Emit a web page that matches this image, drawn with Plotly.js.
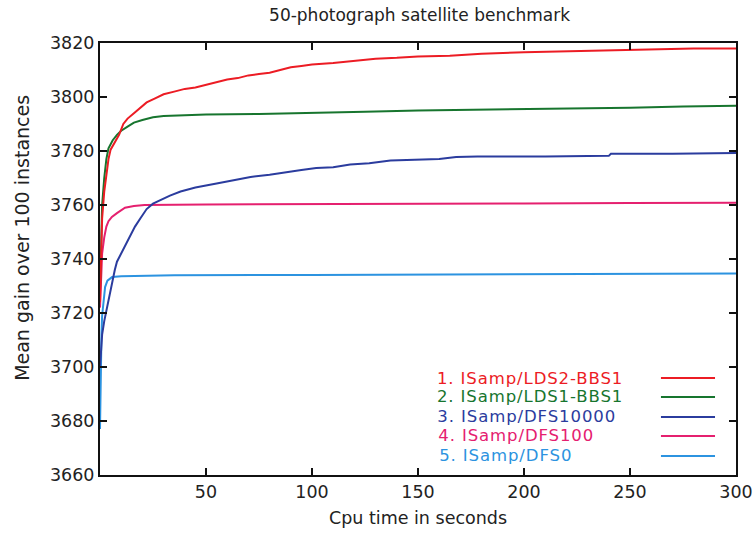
<!DOCTYPE html>
<html>
<head>
<meta charset="utf-8">
<script src="https://cdn.plot.ly/plotly-3.0.1.min.js"></script>
<style>html,body{margin:0;padding:0;background:#fff;}#chart{width:756px;height:533px;}
.legend-anno .annotation-text{letter-spacing:0.9px;}</style>
</head>
<body>
<div id="chart"></div>
<script>
const seriesNames = ["1. ISamp/LDS2-BBS1", "2. ISamp/LDS1-BBS1", "3. ISamp/DFS10000", "4. ISamp/DFS100", "5. ISamp/DFS0"];
const seriesColors = ["#ec1c24", "#17752e", "#2b3c9e", "#e5206f", "#2c93e0"];

const redX = [0, 0.5, 1, 2, 3, 4, 5, 7, 9, 11, 13, 16, 19, 22, 26, 30, 35, 40, 45, 50, 55, 60, 65, 70, 75, 80, 85, 90, 95, 100, 110, 120, 130, 140, 150, 165, 180, 200, 220, 240, 260, 280, 300];
const redY = [3724, 3745, 3755, 3765, 3772, 3777, 3780.5, 3783, 3786, 3790, 3792, 3794, 3796, 3798, 3799.5, 3801, 3802, 3803, 3803.5, 3804.5, 3805.5, 3806.5, 3807, 3808, 3808.5, 3809, 3810, 3811, 3811.5, 3812, 3812.6, 3813.5, 3814.2, 3814.5, 3815, 3815.3, 3816, 3816.6, 3817, 3817.3, 3817.6, 3818, 3818];

const greenX = [0, 0.5, 1, 2, 3, 4, 6, 8, 10, 13, 16, 20, 25, 30, 40, 50, 75, 100, 125, 150, 175, 200, 225, 250, 275, 300];
const greenY = [3728, 3750, 3760, 3770, 3777, 3781, 3784, 3786, 3787.5, 3789, 3790.5, 3791.5, 3792.5, 3793, 3793.3, 3793.5, 3793.7, 3794, 3794.5, 3795, 3795.2, 3795.5, 3795.8, 3796, 3796.5, 3796.8];

const blueX = [0, 0.5, 1, 2, 3, 4, 5, 6, 7, 8, 10, 12, 14, 16.5, 19, 22, 25, 29, 33, 38, 45, 55, 62, 71, 80, 86, 95, 102, 110, 118, 127, 137, 160, 168, 178, 210, 240, 241, 270, 300];
const blueY = [3700, 3708, 3712, 3717, 3721, 3725, 3729, 3733, 3736, 3739, 3742, 3745, 3748.5, 3752, 3755, 3758.5, 3760.5, 3762, 3763.5, 3765, 3766.5, 3768, 3769, 3770.4, 3771.2, 3772, 3773, 3773.7, 3774, 3775, 3775.5, 3776.5, 3777, 3777.8, 3778, 3778, 3778.2, 3779, 3779, 3779.3];

const magentaX = [0, 0.5, 1, 2, 3, 4, 5.6, 8, 11.8, 16, 21, 50, 100, 150, 200, 250, 300];
const magentaY = [3722, 3735, 3742, 3748, 3752, 3754, 3755.6, 3757, 3759, 3759.6, 3760, 3760.2, 3760.4, 3760.5, 3760.6, 3760.7, 3760.8];

const cyanX = [0, 0.2, 0.4, 0.7, 1, 1.5, 2.4, 3.5, 5.7, 10, 30, 35, 100, 200, 300];
const cyanY = [3677, 3690, 3700, 3712, 3719, 3724, 3729.6, 3732, 3733.3, 3733.6, 3733.8, 3734, 3734.1, 3734.3, 3734.6];

const xTicks = [0, 50, 100, 150, 200, 250, 300];
const xTickText = ["", "50", "100", "150", "200", "250", "300"];
const yTicks = [3660, 3680, 3700, 3720, 3740, 3760, 3780, 3800, 3820];

const allX = [redX, greenX, blueX, magentaX, cyanX];
const allY = [redY, greenY, blueY, magentaY, cyanY];

// draw order: back to front
const order = [4, 3, 2, 1, 0];
const traces = order.map(i => ({
  type: 'scatter', mode: 'lines', x: allX[i], y: allY[i], name: seriesNames[i],
  line: {color: seriesColors[i], width: 2}, showlegend: false
}));

const font = "DejaVu Sans, Arial, sans-serif";
const legendRowsY = [0.2245, 0.1806, 0.1343, 0.0903, 0.044];
const annotations = seriesNames.map((n, i) => ({
  xref: 'paper', yref: 'paper', x: 0.541, y: legendRowsY[i], xanchor: 'left', yanchor: 'middle',
  text: n, showarrow: false, borderpad: 0, font: {family: font, size: 16.5, color: seriesColors[i]}
}));
annotations.push({
  xref: 'paper', yref: 'paper', x: -0.1226, y: 0.549, xanchor: 'center', yanchor: 'middle',
  textangle: -90, text: 'Mean gain over 100 instances', showarrow: false,
  font: {family: font, size: 19, color: '#222'}
});
const shapes = seriesNames.map((n, i) => ({
  type: 'line', xref: 'paper', yref: 'paper', x0: 0.882, x1: 0.967, y0: legendRowsY[i], y1: legendRowsY[i],
  line: {color: seriesColors[i], width: 2}
}));

const axisCommon = {
  showgrid: false, zeroline: false, showline: true, linecolor: '#111', linewidth: 2,
  mirror: 'ticks', ticks: 'inside', ticklen: 7, tickwidth: 2, tickcolor: '#111',
  tickfont: {family: font, size: 17.5, color: '#222'}
};

const layout = {
  width: 756, height: 533,
  margin: {l: 100, r: 20, t: 43, b: 58},
  paper_bgcolor: '#fff', plot_bgcolor: '#fff',
  title: {text: '50-photograph satellite benchmark', font: {family: font, size: 17, color: '#222'}, x: 0.555, xanchor: 'center', y: 0.972, yanchor: 'middle'},
  xaxis: Object.assign({}, axisCommon, {range: [0, 300], tickvals: xTicks, ticktext: xTickText,
    title: {text: 'Cpu time in seconds', font: {family: font, size: 17.5, color: '#222'}, standoff: 11}}),
  yaxis: Object.assign({}, axisCommon, {range: [3660, 3820], tickvals: yTicks}),
  annotations: annotations, shapes: shapes, showlegend: false
};

Plotly.newPlot('chart', traces, layout, {displayModeBar: false, staticPlot: true}).then(() => {
  document.querySelectorAll('.annotation').forEach((g, i) => { if (i < seriesNames.length) g.classList.add('legend-anno'); });
});
</script>
</body>
</html>
